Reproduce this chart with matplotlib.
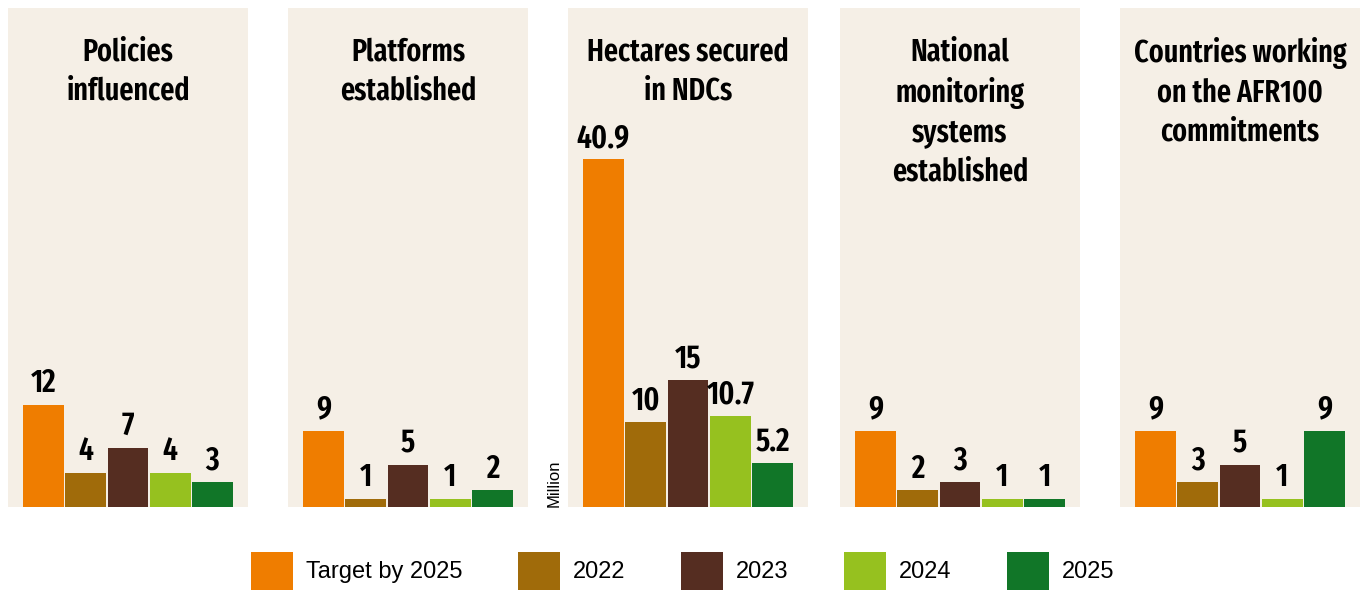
import matplotlib as mpl
mpl.use('Agg')
import matplotlib.pyplot as plt
from matplotlib.patches import Patch
from matplotlib import font_manager

# data
panels = ["Policies\ninfluenced", "Platforms\nestablished", "Hectares secured\nin NDCs",
          "National\nmonitoring\nsystems\nestablished", "Countries working\non the AFR100\ncommitments"]
series = ["Target by 2025", "2022", "2023", "2024", "2025"]
values = [
    [12, 4, 7, 4, 3],
    [9, 1, 5, 1, 2],
    [40.9, 10, 15, 10.7, 5.2],
    [9, 2, 3, 1, 1],
    [9, 3, 5, 1, 9],
]
labels = [
    ["12", "4", "7", "4", "3"],
    ["9", "1", "5", "1", "2"],
    ["40.9", "10", "15", "10.7", "5.2"],
    ["9", "2", "3", "1", "1"],
    ["9", "3", "5", "1", "9"],
]
colors = ["#EF7D00", "#A06B0A", "#552D21", "#96C11F", "#117628"]
bg = "#F5EFE6"

# pick a condensed face that is present
installed = {f.name for f in font_manager.fontManager.ttflist}
cands = ['Fira Sans Extra Condensed', 'Barlow Condensed', 'Roboto Condensed', 'Oswald',
         'Archivo Narrow', 'Asap Condensed', 'DejaVu Sans']
cond = [c for c in cands if c in installed][:1] + ['DejaVu Sans']

W, H = 1363, 591
fig = plt.figure(figsize=(W / 100, H / 100), dpi=100)

lefts = [8, 288, 568, 840, 1120]
top, bottom, pw = 8, 507, 240
ph = bottom - top
for i, left in enumerate(lefts):
    ax = fig.add_axes([left / W, 1 - bottom / H, pw / W, ph / H])
    ax.set_facecolor(bg)
    xs = list(range(len(series)))
    bars = ax.bar(xs, values[i], width=0.96, color=colors, linewidth=0)
    for b, lab in zip(bars, labels[i]):
        ax.annotate(lab, (b.get_x() + b.get_width() / 2, b.get_height()),
                    xytext=(0, 9), textcoords='offset points', ha='center', va='baseline',
                    fontsize=23, fontweight=600, family=cond)
    ax.set_xlim(-0.84, 4.84)
    ax.set_ylim(0, ph / 8.5)
    ax.text(0.5, 1 - 29 / ph, panels[i], transform=ax.transAxes,
            ha='center', va='top', fontsize=22, fontweight=600, family=cond,
            linespacing=1.39)
    for s in ax.spines.values():
        s.set_visible(False)
    ax.set_xticks([])
    ax.set_yticks([])

fig.text(554 / W, 1 - 483 / H, "Million", rotation=90, ha='center', va='center',
         fontsize=12, family='Liberation Sans')

handles = [Patch(facecolor=c, linewidth=0) for c in colors]
fig.legend(handles, series, loc='center', bbox_to_anchor=(683 / W, 1 - 571 / H),
           ncol=5, frameon=False, prop={'family': 'Liberation Sans', 'size': 17},
           handlelength=1.78, handleheight=2.1, handletextpad=0.55, columnspacing=2.35)

fig.savefig("out.png", dpi=100, facecolor='white')
